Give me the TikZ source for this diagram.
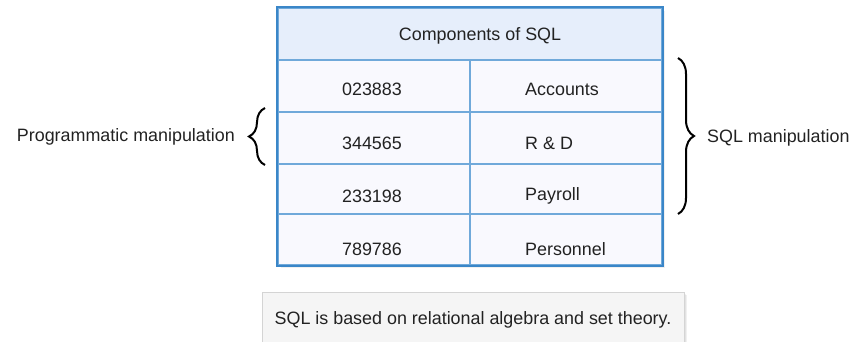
\documentclass[tikz,border=0pt]{standalone}
\usepackage{fontspec}
\setmainfont{Liberation Sans}
\usetikzlibrary{decorations.pathreplacing}
\definecolor{frameblue}{HTML}{3A86C8}
\definecolor{gridblue}{HTML}{70A9DA}
\definecolor{headfill}{HTML}{E6EEFB}
\definecolor{cellfill}{HTML}{F9F9FE}
\definecolor{notefill}{HTML}{F5F5F5}
\definecolor{noteline}{HTML}{D4D4D4}
\definecolor{ink}{HTML}{222222}
\tikzset{
  txt/.style={inner sep=0pt, text=ink, font=\fontsize{17.9}{20}\selectfont},
  cell/.style={draw=gridblue, line width=1.6pt, fill=cellfill, inner sep=0pt},
  bracket/.style={draw=black, line width=2pt, decorate,
    decoration={brace, amplitude=16pt}},
}
\begin{document}
\begin{tikzpicture}[x=1pt, y=-1pt]
\useasboundingbox (0,0) rectangle (853,342);
% soft shadow of the table
\foreach \o/\a in {4/0.06,3/0.08,2/0.10}
  \fill[black, opacity=\a] (277+\o,7+\o) rectangle (661+\o,264+\o);
% header row
\node[cell, fill=headfill, minimum width=384pt, minimum height=52pt, anchor=north west]
  (head) at (277,7) {};
% body cells
\foreach \r/\t/\b in {1/59/111, 2/111/163, 3/163/213, 4/213/264}{
  \node[cell, minimum width=192pt, minimum height={\b-\t}, anchor=north west]
    (L\r) at (277,\t) {};
  \node[cell, minimum width=192pt, minimum height={\b-\t}, anchor=north west]
    (R\r) at (469,\t) {};
}
% outer frame
\draw[frameblue, line width=2.2pt] (head.north west) rectangle (R4.south east);
% texts
\node[txt] (title) at (480,36) {Components of SQL};
\node[txt] (n1) at (372,89) {023883};
\node[txt] (n2) at (372,143) {344565};
\node[txt] (n3) at (372,196) {233198};
\node[txt] (n4) at (372,249) {789786};
\node[txt, anchor=west] (d1) at (525,89) {Accounts};
\node[txt, anchor=west] (d2) at (525,143) {R \& D};
\node[txt, anchor=west] (d3) at (525,196) {Payroll};
\node[txt, anchor=west] (d4) at (525,249) {Personnel};
% side labels and braces
\node[txt, anchor=east] (prog) at (235,137) {Programmatic manipulation};
\coordinate (lb1) at (265,165);
\coordinate (lb2) at (265,108);
\draw[bracket] (lb1) -- (lb2);
\node[txt, anchor=west] (sqlm) at (707,138) {SQL manipulation};
\coordinate (rb1) at (678,58);
\coordinate (rb2) at (678,214);
\draw[bracket] (rb1) -- (rb2);
% note box
\fill[black, opacity=0.06] (265,295) rectangle (687,344);
\fill[black, opacity=0.06] (264,294) rectangle (686,343);
\node[draw=noteline, fill=notefill, line width=1pt, minimum width=422pt,
  minimum height=50pt, anchor=north west, inner sep=0pt] (note) at (262,292) {};
\node[txt] (notetext) at (473,320) {SQL is based on relational algebra and set theory.};
\end{tikzpicture}
\end{document}
